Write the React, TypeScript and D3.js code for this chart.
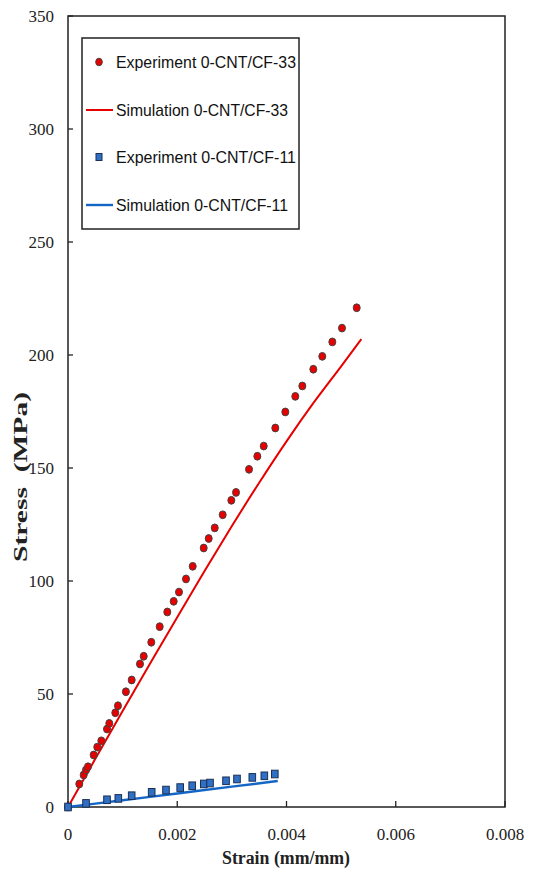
import React from "react";
import * as d3 from "d3";

const expStrain33 = [0, 0.000207, 0.000287, 0.00033, 0.000366, 0.00047, 0.000536, 0.00061, 0.000714, 0.000756, 0.000866, 0.000915, 0.00106, 0.001166, 0.001318, 0.001386, 0.001525, 0.001679, 0.001818, 0.001935, 0.002032, 0.00216, 0.002283, 0.002484, 0.002576, 0.002686, 0.002832, 0.00299, 0.003076, 0.003314, 0.003466, 0.003583, 0.003795, 0.003978, 0.004161, 0.00429, 0.004491, 0.004655, 0.004839, 0.005016, 0.005285];
const expStress33 = [0, 10.2, 14.2, 16.4, 17.8, 23.0, 26.5, 29.3, 34.5, 37.0, 41.7, 44.8, 51.0, 56.2, 63.3, 66.7, 72.9, 79.8, 86.3, 91.0, 95.1, 100.9, 106.5, 114.6, 118.8, 123.5, 129.3, 135.7, 139.2, 149.4, 155.2, 159.7, 167.7, 174.8, 181.7, 186.3, 193.7, 199.4, 205.8, 211.9, 220.9];

const simStrain33 = [0, 0.0005, 0.001, 0.0015, 0.002, 0.0025, 0.003, 0.0035, 0.004, 0.0045, 0.005, 0.00537];
const simStress33 = [0, 21.3, 42.5, 63.4, 84.0, 104.4, 124.3, 143.5, 161.8, 179.0, 195.0, 207.0];

const expStrain11 = [0, 0.00033, 0.000714, 0.000921, 0.001166, 0.001532, 0.001794, 0.002054, 0.002274, 0.002486, 0.0026, 0.002893, 0.003094, 0.003374, 0.003594, 0.003786];
const expStress11 = [0, 1.6, 3.2, 3.8, 5.0, 6.5, 7.5, 8.6, 9.4, 10.2, 10.6, 11.6, 12.4, 13.1, 13.8, 14.6];

const simStrain11 = [0, 0.001, 0.002, 0.003, 0.00384];
const simStress11 = [0, 3.0, 6.0, 9.0, 11.5];

const xTicks = [0, 0.002, 0.004, 0.006, 0.008];
const xTickLabels = ["0", "0.002", "0.004", "0.006", "0.008"];
const yTicks = [0, 50, 100, 150, 200, 250, 300, 350];

const legendLabels = [
  "Experiment 0-CNT/CF-33",
  "Simulation 0-CNT/CF-33",
  "Experiment 0-CNT/CF-11",
  "Simulation 0-CNT/CF-11",
];

const W = 538;
const H = 877;
const L = 68, R = 505, T = 16, B = 807;

export default function App() {
  const x = d3.scaleLinear().domain([0, 0.008]).range([L, R]);
  const y = d3.scaleLinear().domain([0, 350]).range([B, T]);
  const line = d3
    .line<[number, number]>()
    .x((d) => x(d[0]))
    .y((d) => y(d[1]))
    .curve(d3.curveMonotoneX);

  const sim33 = simStrain33.map((s, i) => [s, simStress33[i]] as [number, number]);
  const sim11 = simStrain11.map((s, i) => [s, simStress11[i]] as [number, number]);

  const serif = "'Liberation Serif', 'Times New Roman', serif";
  const sans = "'Liberation Sans', Arial, sans-serif";
  const axisColor = "#222";
  const red = "#e60000";
  const blue = "#2f6fc4";
  const blueLine = "#1366c6";

  const legY = [62, 110, 157, 205];

  return (
    <svg
      width={W}
      height={H}
      style={{ position: "absolute", left: 0, top: 0, background: "#fff" }}
    >
      <rect x={0} y={0} width={W} height={H} fill="#fff" />
      {/* frame */}
      <rect x={L} y={T} width={R - L} height={B - T} fill="none" stroke={axisColor} strokeWidth={1.5} />
      {/* y ticks */}
      {yTicks.map((t) => (
        <g key={"y" + t}>
          <line x1={L} x2={L + 5} y1={y(t)} y2={y(t)} stroke={axisColor} strokeWidth={1.3} />
          <text x={54} y={y(t) + 6} textAnchor="end" fontFamily={serif} fontSize={17} fill="#222">
            {t}
          </text>
        </g>
      ))}
      {/* x ticks */}
      {xTicks.map((t, i) => (
        <g key={"x" + t}>
          <line x1={x(t)} x2={x(t)} y1={B} y2={B - 6} stroke={axisColor} strokeWidth={1.3} />
          <text x={x(t)} y={840} textAnchor="middle" fontFamily={serif} fontSize={17} fill="#222">
            {xTickLabels[i]}
          </text>
        </g>
      ))}
      {/* axis titles */}
      <text x={286} y={864} textAnchor="middle" fontFamily={serif} fontWeight="bold" fontSize={18} fill="#222" textLength={128} lengthAdjust="spacingAndGlyphs">
        Strain (mm/mm)
      </text>
      <text
        transform={`translate(27,477) rotate(-90)`}
        textAnchor="middle"
        fontFamily={serif}
        fontWeight="bold"
        fontSize={19}
        fill="#222"
        textLength={170}
        lengthAdjust="spacingAndGlyphs"
        style={{ whiteSpace: "pre" }}
      >
        {"Stress  (MPa)"}
      </text>

      {/* simulation lines */}
      <path d={line(sim33) || ""} fill="none" stroke={red} strokeWidth={2} />
      <path d={line(sim11) || ""} fill="none" stroke={blueLine} strokeWidth={2.4} />

      {/* experiment 33 */}
      {expStrain33.map((s, i) => (
        <ellipse
          key={"e33" + i}
          cx={x(s)}
          cy={y(expStress33[i])}
          rx={3.5}
          ry={3.9}
          fill={red}
          stroke="#444"
          strokeWidth={1}
        />
      ))}
      {/* experiment 11 */}
      {expStrain11.map((s, i) => (
        <rect
          key={"e11" + i}
          x={x(s) - 3.3}
          y={y(expStress11[i]) - 3.8}
          width={6.6}
          height={7.6}
          fill={blue}
          stroke="#1b2f55"
          strokeWidth={1}
        />
      ))}

      {/* legend */}
      <rect x={82} y={38} width={217} height={191} fill="#fff" stroke={axisColor} strokeWidth={1.5} />
      <ellipse cx={99} cy={legY[0]} rx={3.3} ry={3.8} fill={red} stroke="#444" strokeWidth={1} />
      <line x1={86} x2={113} y1={legY[1]} y2={legY[1]} stroke={red} strokeWidth={2} />
      <rect x={96} y={legY[2] - 3.5} width={6} height={7} fill={blue} stroke="#1b2f55" strokeWidth={1} />
      <line x1={86} x2={113} y1={legY[3]} y2={legY[3]} stroke={blueLine} strokeWidth={2.4} />
      {legendLabels.map((lab, i) => (
        <text key={lab} x={116} y={legY[i] + 6} fontFamily={sans} fontSize={17} fill="#111" textLength={i === 0 || i === 2 ? 180 : 172} lengthAdjust="spacingAndGlyphs">
          {lab}
        </text>
      ))}
    </svg>
  );
}
